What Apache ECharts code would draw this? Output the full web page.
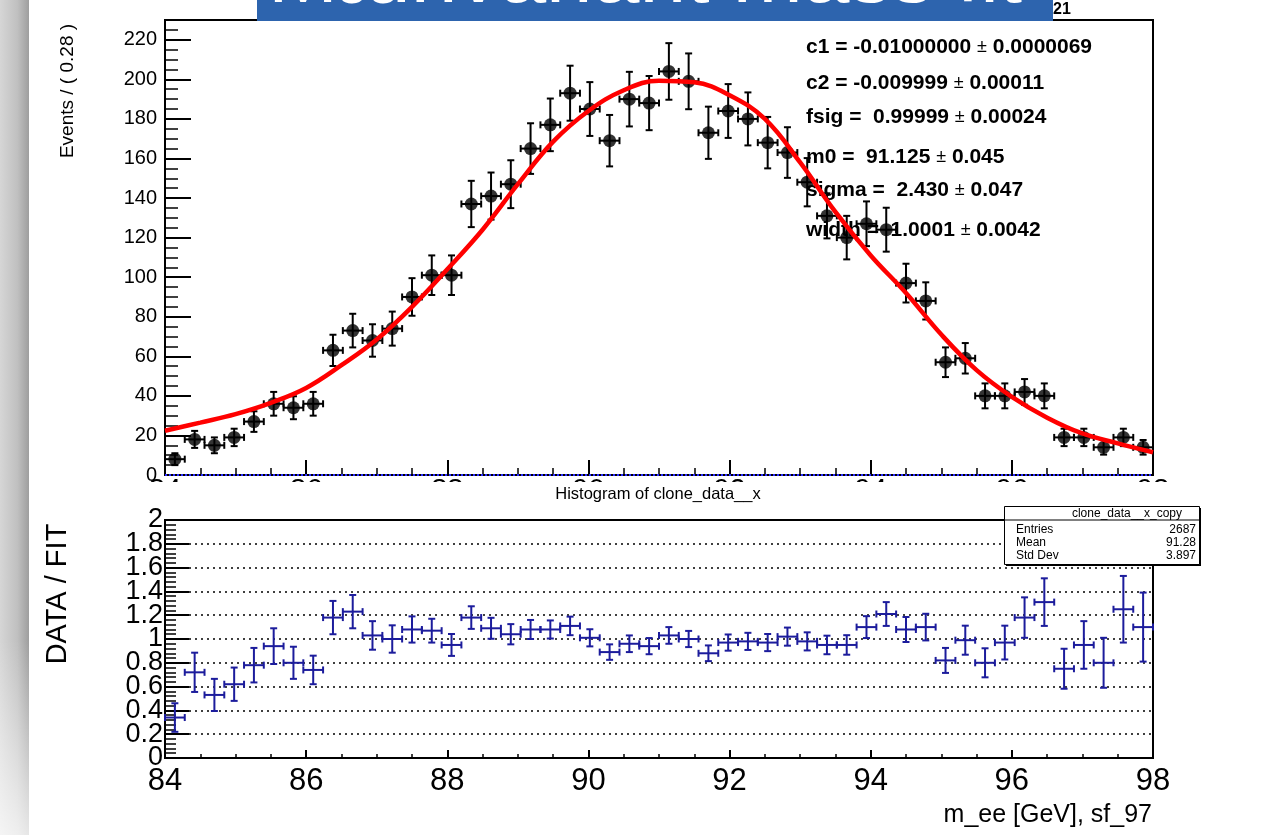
<!DOCTYPE html>
<html>
<head>
<meta charset="utf-8">
<title>Mee invariant mass fit</title>
<script src="https://cdn.jsdelivr.net/npm/echarts@6/dist/echarts.min.js"></script>
<style>
    html, body { margin: 0; padding: 0; background: #fff; }
    #chart { width: 1276px; height: 835px; }
</style>
</head>
<body>
<div id="chart"></div>
<script>
// bin centres, 50 bins of 0.28 GeV between 84 and 98
let binCenters = [
    84.14, 84.42, 84.70, 84.98, 85.26, 85.54, 85.82, 86.10, 86.38, 86.66,
    86.94, 87.22, 87.50, 87.78, 88.06, 88.34, 88.62, 88.90, 89.18, 89.46,
    89.74, 90.02, 90.30, 90.58, 90.86, 91.14, 91.42, 91.70, 91.98, 92.26,
    92.54, 92.82, 93.10, 93.38, 93.66, 93.94, 94.22, 94.50, 94.78, 95.06,
    95.34, 95.62, 95.90, 96.18, 96.46, 96.74, 97.02, 97.30, 97.58, 97.86
];
let halfBin = 0.14;

// upper pad: events per bin and their errors
let dataEvents = [
    8, 18, 15, 19, 27, 36, 34, 36, 63, 73,
    68, 74, 90, 101, 101, 137, 141, 147, 165, 177,
    193, 185, 169, 190, 188, 204, 199, 173, 184, 180,
    168, 163, 148, 131, 120, 127, 124, 97, 88, 57,
    59, 40, 40, 42, 40, 19, 19, 14, 19, 14
];
let dataErrors = [
    3.0, 4.3, 4.0, 4.4, 5.2, 6.0, 5.8, 6.0, 7.9, 8.5,
    8.2, 8.6, 9.5, 10.0, 10.0, 11.7, 11.9, 12.1, 12.8, 13.3,
    13.9, 13.6, 13.0, 13.8, 13.7, 14.3, 14.1, 13.2, 13.6, 13.4,
    13.0, 12.8, 12.2, 11.4, 11.0, 11.3, 11.1, 9.8, 9.4, 7.5,
    7.7, 6.3, 6.3, 6.5, 6.3, 4.4, 4.4, 3.7, 4.4, 3.7
];

// fitted curve
let fitMass = [
    84.0, 84.5, 85.0, 85.5, 86.0, 86.5, 87.0, 87.5, 88.0, 88.5,
    89.0, 89.5, 90.0, 90.5, 91.0, 91.5, 92.0, 92.5, 93.0, 93.5,
    94.0, 94.5, 95.0, 95.5, 96.0, 96.5, 97.0, 97.5, 98.0
];
let fitValues = [
    22.4, 26.5, 30.8, 36.5, 44.0, 55.5, 68.5, 85.0, 104.0, 124.0,
    147.0, 168.5, 184.0, 194.5, 199.3, 198.5, 192.0, 180.0, 158.0, 133.0,
    111.0, 92.0, 71.0, 53.0, 39.5, 29.0, 21.0, 16.0, 11.5
];

// lower pad: data / fit
let ratioValues = [
    0.34, 0.72, 0.53, 0.62, 0.78, 0.94, 0.80, 0.74, 1.18, 1.23,
    1.03, 1.00, 1.08, 1.07, 0.95, 1.18, 1.09, 1.04, 1.08, 1.08,
    1.11, 1.01, 0.89, 0.96, 0.94, 1.03, 1.00, 0.88, 0.97, 0.98,
    0.97, 1.02, 0.98, 0.95, 0.95, 1.10, 1.21, 1.08, 1.10, 0.82,
    0.99, 0.80, 0.97, 1.18, 1.31, 0.75, 0.95, 0.80, 1.25, 1.10
];
let ratioErrors = [
    0.12, 0.165, 0.135, 0.14, 0.145, 0.15, 0.135, 0.12, 0.14, 0.14,
    0.12, 0.115, 0.11, 0.10, 0.092, 0.095, 0.088, 0.085, 0.08, 0.076,
    0.078, 0.072, 0.065, 0.07, 0.068, 0.07, 0.068, 0.066, 0.068, 0.072,
    0.072, 0.076, 0.076, 0.078, 0.082, 0.092, 0.10, 0.105, 0.112, 0.105,
    0.122, 0.122, 0.142, 0.17, 0.20, 0.168, 0.20, 0.21, 0.28, 0.29
];

let fitParams = [
    ['c1 = -0.01000000 ', ' 0.0000069'],
    ['c2 = -0.009999 ', ' 0.00011'],
    ['fsig =  0.99999 ', ' 0.00024'],
    ['m0 =  91.125 ', ' 0.045'],
    ['sigma =  2.430 ', ' 0.047'],
    ['width =  1.0001 ', ' 0.0042']
];
let fitParamRows = [47, 83, 117, 157, 190, 230];

let statsLabels = ['Entries', 'Mean', 'Std Dev'];
let statsValues = ['2687', '91.28', '3.897'];

let FONT = '"Liberation Sans", Arial, Helvetica, sans-serif';

let myChart = echarts.init(document.getElementById('chart'), null, { renderer: 'canvas' });

// cross with end caps, drawn through the axis scales
let makeErrorBars = function(color, width, cap) {
    return function(params, api) {
        let x = api.value(0);
        let y = api.value(1);
        let err = api.value(2);
        let lo = api.coord([x, y - err]);
        let hi = api.coord([x, y + err]);
        let left = api.coord([x - halfBin, y]);
        let right = api.coord([x + halfBin, y]);
        let seg = function(x1, y1, x2, y2) {
            return {
                type: 'line',
                shape: { x1: x1, y1: y1, x2: x2, y2: y2 },
                style: { stroke: color, lineWidth: width }
            };
        };
        return {
            type: 'group',
            children: [
                seg(lo[0], lo[1], hi[0], hi[1]),
                seg(left[0], left[1], right[0], right[1]),
                seg(lo[0] - cap, lo[1], lo[0] + cap, lo[1]),
                seg(hi[0] - cap, hi[1], hi[0] + cap, hi[1]),
                seg(left[0], left[1] - cap, left[0], left[1] + cap),
                seg(right[0], right[1] - cap, right[0], right[1] + cap)
            ]
        };
    };
};

let black = '#000';
let axisLine = { show: true, lineStyle: { color: black, width: 2 } };

// an axis that only draws ticks, laid over a main axis
let tickAxis = function(gridIndex, position, min, max, interval, length, width) {
    return {
        gridIndex: gridIndex, type: 'value', position: position, offset: 0,
        min: min, max: max, interval: interval,
        axisLine: { show: false },
        axisTick: { inside: true, length: length, lineStyle: { color: black, width: width } },
        axisLabel: { show: false },
        splitLine: { show: false }
    };
};

let isRatioEnd = function(v) {
    return Math.abs(v) < 1e-6 || Math.abs(v - 2) < 1e-6;
};

let graphics = [
    // slide shadow on the left edge
    {
        type: 'rect', left: 0, top: 0, z: 1,
        shape: { width: 29, height: 835 },
        style: {
            fill: new echarts.graphic.LinearGradient(0, 0, 1, 0, [
                { offset: 0, color: '#d6d6d6' },
                { offset: 0.6, color: '#c0c0c0' },
                { offset: 1, color: '#9e9e9e' }
            ])
        }
    },
    {
        type: 'rect', left: 0, top: 640, z: 2,
        shape: { width: 29, height: 195 },
        style: {
            fill: new echarts.graphic.LinearGradient(0, 0, 0, 1, [
                { offset: 0, color: 'rgba(255,255,255,0)' },
                { offset: 1, color: 'rgba(255,255,255,0.75)' }
            ])
        }
    },
    // lower pad hides the upper x labels
    {
        type: 'rect', left: 120, top: 482, z: 50,
        shape: { width: 1080, height: 22 },
        style: { fill: '#fff' }
    },
    {
        type: 'text', x: 658, y: 494, z: 60,
        style: { text: 'Histogram of clone_data__x', font: '16.5px ' + FONT, fill: black, align: 'center', verticalAlign: 'middle' }
    },
    // axis titles
    {
        type: 'text', x: 68, y: 91, rotation: Math.PI / 2, z: 10,
        style: { text: 'Events / ( 0.28 )', font: '19px ' + FONT, fill: black, align: 'center', verticalAlign: 'middle' }
    },
    {
        type: 'text', x: 58, y: 594, rotation: Math.PI / 2, z: 10,
        style: { text: 'DATA / FIT', font: '29px ' + FONT, fill: black, align: 'center', verticalAlign: 'middle' }
    },
    {
        type: 'text', x: 1152, y: 815, z: 10,
        style: { text: 'm_ee [GeV], sf_97', font: '25px ' + FONT, fill: black, align: 'right', verticalAlign: 'middle' }
    },
    // slide title, mostly outside the visible area
    {
        type: 'text', x: 1053, y: 10, z: 98,
        style: { text: '21', font: 'bold 16px ' + FONT, fill: black, align: 'left', verticalAlign: 'middle' }
    },
    {
        type: 'rect', left: 257, top: 0, z: 100,
        shape: { width: 796, height: 21 },
        style: { fill: '#2d64ae' }
    },
    {
        type: 'text', x: 268, y: -21, z: 101,
        style: { text: 'M', font: '84px ' + FONT, fill: '#fff', align: 'left', verticalAlign: 'middle' }
    },
    {
        type: 'text', x: 336, y: -12, z: 101,
        style: { text: 'ee', font: '56px ' + FONT, fill: '#fff', align: 'left', verticalAlign: 'middle' }
    },
    {
        type: 'text', x: 392, y: -21, z: 101,
        style: { text: 'invariant mass fit', font: '84px ' + FONT, fill: '#fff', align: 'left', verticalAlign: 'middle' }
    }
];

// fit parameters
fitParams.forEach(function(p, i) {
    graphics.push({
        type: 'text', x: 806, y: fitParamRows[i], z: 0,
        style: {
            text: '{b|' + p[0] + '}{p|±}{b|' + p[1] + '}',
            align: 'left', verticalAlign: 'middle',
            rich: {
                b: { font: 'bold 21px ' + FONT, fill: black },
                p: { font: '18px ' + FONT, fill: black }
            }
        }
    });
});

// stats box
graphics.push(
    { type: 'rect', left: 1006, top: 508, z: 100, shape: { width: 195, height: 58 }, style: { fill: black } },
    { type: 'rect', left: 1004, top: 506, z: 101, shape: { width: 195, height: 58 }, style: { fill: '#fff', stroke: black, lineWidth: 1 } },
    { type: 'line', z: 102, shape: { x1: 1004, y1: 520, x2: 1199, y2: 520 }, style: { stroke: black, lineWidth: 1 } },
    {
        type: 'text', x: 1127, y: 514, z: 102,
        style: { text: 'clone_data__x_copy', font: '12px ' + FONT, fill: black, align: 'center', verticalAlign: 'middle' }
    }
);
statsLabels.forEach(function(label, i) {
    let y = 530 + i * 13;
    graphics.push(
        { type: 'text', x: 1016, y: y, z: 102, style: { text: label, font: '12px ' + FONT, fill: black, align: 'left', verticalAlign: 'middle' } },
        { type: 'text', x: 1196, y: y, z: 102, style: { text: statsValues[i], font: '12px ' + FONT, fill: black, align: 'right', verticalAlign: 'middle' } }
    );
});

let options = {
    animation: false,
    backgroundColor: '#fff',
    textStyle: { fontFamily: FONT },
    grid: [
        { left: 165, top: 20, width: 988, height: 455, show: true, borderColor: black, borderWidth: 2, backgroundColor: 'transparent' },
        { left: 165, top: 520, width: 988, height: 238, show: true, borderColor: black, borderWidth: 2, backgroundColor: 'transparent' }
    ],
    xAxis: [
        {
            gridIndex: 0, type: 'value', position: 'bottom', offset: 0, min: 84, max: 98, interval: 2,
            axisLine: axisLine,
            axisTick: { inside: true, length: 15, lineStyle: { color: black, width: 2 } },
            axisLabel: { fontSize: 29, color: black, margin: 1 },
            splitLine: { show: false }
        },
        {
            gridIndex: 1, type: 'value', position: 'bottom', offset: 0, min: 84, max: 98, interval: 2,
            axisLine: axisLine,
            axisTick: { inside: true, length: 8, lineStyle: { color: black, width: 2 } },
            axisLabel: { fontSize: 31, color: black, margin: 8 },
            splitLine: { show: false }
        },
        tickAxis(0, 'bottom', 84, 98, 0.5, 7, 1.5),
        tickAxis(1, 'bottom', 84, 98, 0.5, 4, 1.5)
    ],
    yAxis: [
        {
            gridIndex: 0, type: 'value', position: 'left', offset: 0, min: 0, max: 230, interval: 20,
            axisLine: axisLine,
            axisTick: { inside: true, length: 26, lineStyle: { color: black, width: 2 } },
            axisLabel: { fontSize: 20, color: black, margin: 8, showMinLabel: true, showMaxLabel: false },
            splitLine: { show: false }
        },
        tickAxis(0, 'left', 0, 230, 5, 13, 1.5),
        // ratio axis: line, grid lines and the end labels 0 and 2
        {
            gridIndex: 1, type: 'value', position: 'left', offset: 0, min: 0, max: 2, interval: 0.2,
            axisLine: axisLine,
            axisTick: { show: false },
            axisLabel: {
                fontSize: 27, color: black, margin: 2, showMinLabel: true, showMaxLabel: true,
                formatter: function(v) { return isRatioEnd(v) ? String(Math.round(v)) : ''; }
            },
            splitLine: { show: true, lineStyle: { color: black, width: 1.5, type: [2, 4] } }
        },
        // ratio axis: inner labels 0.2 .. 1.8
        {
            gridIndex: 1, type: 'value', position: 'left', offset: 0, min: 0, max: 2, interval: 0.2,
            axisLine: { show: false },
            axisTick: { show: false },
            axisLabel: { fontSize: 27, color: black, margin: 2, showMinLabel: false, showMaxLabel: false },
            splitLine: { show: false }
        },
        tickAxis(1, 'left', 0, 2, 0.2, 24, 2),
        tickAxis(1, 'left', 0, 2, 0.04, 11, 1.5)
    ],
    series: [
        {
            name: 'data errors',
            type: 'custom',
            xAxisIndex: 0, yAxisIndex: 0,
            renderItem: makeErrorBars(black, 2, 3.5),
            encode: { x: 0, y: 1 },
            data: binCenters.map(function(x, i) { return [x, dataEvents[i], dataErrors[i]]; }),
            z: 3
        },
        {
            name: 'data',
            type: 'scatter',
            xAxisIndex: 0, yAxisIndex: 0,
            symbol: 'circle', symbolSize: 13,
            itemStyle: { color: black },
            data: binCenters.map(function(x, i) { return [x, dataEvents[i]]; }),
            z: 4
        },
        {
            name: 'fit',
            type: 'line',
            xAxisIndex: 0, yAxisIndex: 0,
            smooth: 0.4,
            showSymbol: false,
            lineStyle: { color: '#ff0000', width: 4.5 },
            data: fitMass.map(function(x, i) { return [x, fitValues[i]]; }),
            markLine: {
                silent: true,
                symbol: ['none', 'none'],
                label: { show: false },
                lineStyle: { color: '#2a2aff', width: 2, type: [2, 2] },
                data: [{ yAxis: 0 }]
            },
            z: 5
        },
        {
            name: 'data / fit',
            type: 'custom',
            xAxisIndex: 1, yAxisIndex: 2,
            renderItem: makeErrorBars('#1c1c9c', 2, 3.5),
            encode: { x: 0, y: 1 },
            data: binCenters.map(function(x, i) { return [x, ratioValues[i], ratioErrors[i]]; }),
            z: 3
        }
    ],
    graphic: graphics
};

myChart.setOption(options);
</script>
</body>
</html>
